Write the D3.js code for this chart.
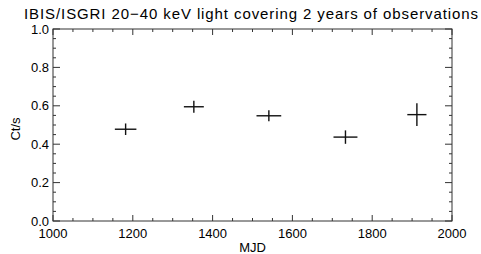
<!DOCTYPE html>
<html>
<head>
<meta charset="utf-8">
<title>IBIS/ISGRI light curve</title>
<script src="https://d3js.org/d3.v7.min.js"></script>
<style>
  body { margin: 0; background: #fff; }
  text { font-family: "Liberation Sans", Arial, sans-serif; fill: #000; }
</style>
</head>
<body>
<div id="chart"></div>
<script>
// Data
const mjd     = [1182, 1353, 1541, 1733, 1912];
const mjdErr  = [27, 25, 31, 30, 24];
const rate    = [0.478, 0.595, 0.548, 0.437, 0.554];
const rateErr = [0.030, 0.031, 0.029, 0.035, 0.059];
const xTicks  = [1000, 1200, 1400, 1600, 1800, 2000];
const yTicks  = [0.0, 0.2, 0.4, 0.6, 0.8, 1.0];

const width = 481, height = 254;
const plotLeft = 53, plotRight = 452, plotTop = 29, plotBottom = 221;

const svg = d3.select("#chart").append("svg")
  .attr("width", width)
  .attr("height", height);

const x = d3.scaleLinear().domain([1000, 2000]).range([plotLeft, plotRight]);
const y = d3.scaleLinear().domain([0, 1]).range([plotBottom, plotTop]);

// title (IDL font is a bit wider, so stretch the spacing)
svg.append("text")
  .attr("x", 24).attr("y", 19)
  .attr("textLength", 454)
  .attr("lengthAdjust", "spacing")
  .style("font-size", "15px")
  .text("IBIS/ISGRI 20\u221240 keV light covering 2 years of observations");

// frame
svg.append("rect")
  .attr("x", plotLeft).attr("y", plotTop)
  .attr("width", plotRight - plotLeft).attr("height", plotBottom - plotTop)
  .attr("fill", "none").attr("stroke", "#333").attr("stroke-width", 1);

// minor + major ticks on all four sides
const xMinor = d3.range(1000, 2001, 50);
const yMinor = d3.range(0, 1.0001, 0.05);
const tickG = svg.append("g").attr("stroke", "#333").attr("stroke-width", 1);

xMinor.forEach(function (v) {
  const major = Math.abs(v % 200) < 1e-6;
  const len = major ? 6 : 3;
  tickG.append("line").attr("x1", x(v)).attr("x2", x(v)).attr("y1", plotBottom).attr("y2", plotBottom - len);
  tickG.append("line").attr("x1", x(v)).attr("x2", x(v)).attr("y1", plotTop).attr("y2", plotTop + len);
});
yMinor.forEach(function (v, i) {
  const major = i % 4 == 0;
  const len = major ? 7 : 3;
  tickG.append("line").attr("y1", y(v)).attr("y2", y(v)).attr("x1", plotLeft).attr("x2", plotLeft + len);
  tickG.append("line").attr("y1", y(v)).attr("y2", y(v)).attr("x1", plotRight).attr("x2", plotRight - len);
});

// tick labels
svg.append("g").selectAll("text")
  .data(xTicks).enter().append("text")
  .attr("x", function (d) { return x(d); })
  .attr("y", plotBottom + 17)
  .attr("text-anchor", "middle")
  .style("font-size", "13px")
  .text(function (d) { return d; });

svg.append("g").selectAll("text")
  .data(yTicks).enter().append("text")
  .attr("x", plotLeft - 4)
  .attr("y", function (d) { return y(d) + 4.5; })
  .attr("text-anchor", "end")
  .style("font-size", "13px")
  .text(function (d) { return d.toFixed(1); });

// axis titles
svg.append("text")
  .attr("transform", "translate(20,129) rotate(-90)")
  .attr("text-anchor", "middle")
  .style("font-size", "13px")
  .text("Ct/s");

svg.append("text")
  .attr("x", x(1500)).attr("y", 252)
  .attr("text-anchor", "middle")
  .style("font-size", "13px")
  .text("MJD");

// error bars
const pts = mjd.map(function (d, i) { return {t: d, dt: mjdErr[i], r: rate[i], dr: rateErr[i]}; });
const eb = svg.append("g").attr("stroke", "#111").attr("stroke-width", 1.4);
eb.selectAll("line.h").data(pts).enter().append("line")
  .attr("class", "h")
  .attr("x1", function (d) { return x(d.t - d.dt); })
  .attr("x2", function (d) { return x(d.t + d.dt); })
  .attr("y1", function (d) { return y(d.r); })
  .attr("y2", function (d) { return y(d.r); });
eb.selectAll("line.v").data(pts).enter().append("line")
  .attr("class", "v")
  .attr("x1", function (d) { return x(d.t); })
  .attr("x2", function (d) { return x(d.t); })
  .attr("y1", function (d) { return y(d.r - d.dr); })
  .attr("y2", function (d) { return y(d.r + d.dr); });
</script>
</body>
</html>
